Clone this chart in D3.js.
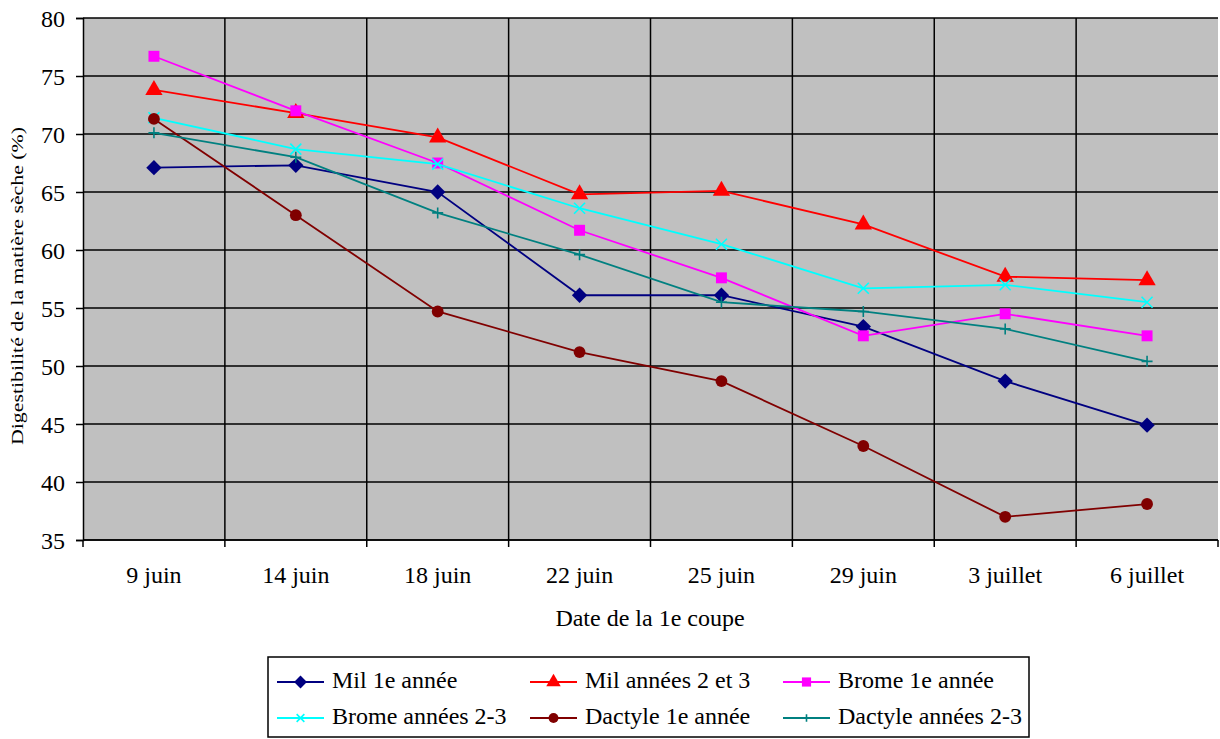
<!DOCTYPE html>
<html>
<head>
<meta charset="utf-8">
<script src="https://cdn.jsdelivr.net/npm/d3@7"></script>
<style>
  body { margin: 0; background: #fff; }
  svg { display: block; }
  svg text { font-family: "Liberation Serif", "Times New Roman", serif; fill: #000; }
</style>
</head>
<body>
<svg id="chart" width="1220" height="739"></svg>
<script>
// data
const dates = ["9 juin", "14 juin", "18 juin", "22 juin", "25 juin", "29 juin", "3 juillet", "6 juillet"];
const milAn1 = [67.1, 67.3, 65.0, 56.1, 56.1, 53.4, 48.7, 44.9];
const milAn23 = [73.8, 71.8, 69.7, 64.8, 65.1, 62.2, 57.7, 57.4];
const bromeAn1 = [76.7, 72.0, 67.5, 61.7, 57.6, 52.6, 54.5, 52.6];
const bromeAn23 = [71.4, 68.7, 67.4, 63.6, 60.5, 56.7, 57.0, 55.5];
const dactyleAn1 = [71.3, 63.0, 54.7, 51.2, 48.7, 43.1, 37.0, 38.1];
const dactyleAn23 = [70.1, 68.0, 63.2, 59.6, 55.5, 54.7, 53.2, 50.4];
const yTicks = [35, 40, 45, 50, 55, 60, 65, 70, 75, 80];

const series = [
  { name: "Mil 1e année", values: milAn1, color: "#000080", symbol: "diamond" },
  { name: "Mil années 2 et 3", values: milAn23, color: "#ff0000", symbol: "triangle" },
  { name: "Brome 1e année", values: bromeAn1, color: "#ff00ff", symbol: "square" },
  { name: "Brome années 2-3", values: bromeAn23, color: "#00ffff", symbol: "x" },
  { name: "Dactyle 1e année", values: dactyleAn1, color: "#800000", symbol: "circle" },
  { name: "Dactyle années 2-3", values: dactyleAn23, color: "#008080", symbol: "plus" }
];

const svg = d3.select("#chart");
const plotL = 83, plotR = 1218, plotT = 18, plotB = 540;

const x = d3.scaleBand().domain(dates).range([plotL, plotR]);
const y = d3.scaleLinear().domain([35, 80]).range([plotB, plotT]);

// plot background
svg.append("rect")
  .attr("x", plotL).attr("y", plotT)
  .attr("width", plotR - plotL).attr("height", plotB - plotT)
  .attr("fill", "#c0c0c0");

// horizontal grid
svg.append("g").selectAll("line")
  .data(yTicks)
  .join("line")
  .attr("x1", plotL).attr("x2", plotR)
  .attr("y1", d => y(d)).attr("y2", d => y(d))
  .attr("stroke", "#000").attr("stroke-width", 1.5);

// vertical grid at category boundaries
svg.append("g").selectAll("line")
  .data(dates.slice(1))
  .join("line")
  .attr("x1", d => x(d)).attr("x2", d => x(d))
  .attr("y1", plotT).attr("y2", plotB)
  .attr("stroke", "#000").attr("stroke-width", 1.5);

// y axis
const yAxis = svg.append("g")
  .attr("transform", `translate(${plotL},0)`)
  .call(d3.axisLeft(y).tickValues(yTicks).tickSize(7).tickPadding(11));
yAxis.select(".domain").attr("stroke", "#000").attr("stroke-width", 1.5);
yAxis.selectAll(".tick line").attr("stroke", "#000").attr("stroke-width", 1.5);
yAxis.selectAll("text")
  .attr("font-size", 24).attr("dy", "0.34em");

// x axis: ticks at band boundaries
const xAxis = svg.append("g").attr("transform", `translate(0,${plotB})`);
xAxis.append("line")
  .attr("x1", plotL).attr("x2", plotR)
  .attr("stroke", "#000").attr("stroke-width", 1.5);
xAxis.selectAll("line.tk")
  .data(dates.map(d => x(d)).concat([plotR]))
  .join("line").attr("class", "tk")
  .attr("x1", d => d).attr("x2", d => d)
  .attr("y1", 0).attr("y2", 7)
  .attr("stroke", "#000").attr("stroke-width", 1.5);
xAxis.selectAll("text")
  .data(dates)
  .join("text")
  .attr("x", d => x(d) + x.bandwidth() / 2)
  .attr("y", 43)
  .attr("text-anchor", "middle")
  .attr("font-size", 24)
  .text(d => d);

// axis titles
svg.append("text")
  .attr("x", 650).attr("y", 626)
  .attr("text-anchor", "middle")
  .attr("font-size", 24)
  .text("Date de la 1e coupe");

svg.append("text")
  .attr("transform", "translate(23,286) rotate(-90)")
  .attr("text-anchor", "middle")
  .attr("font-size", 16)
  .attr("textLength", 318)
  .attr("lengthAdjust", "spacingAndGlyphs")
  .text("Digestibilité de la matière sèche (%)");

// marker drawing
function drawMarker(g, symbol, color, size) {
  if (symbol === "x") {
    const s = size * 0.55;
    g.append("path").attr("d", `M${-s},${-s}L${s},${s}M${-s},${s}L${s},${-s}`)
      .attr("stroke", color).attr("stroke-width", 1.6).attr("fill", "none");
  } else if (symbol === "plus") {
    const s = size * 0.55;
    g.append("path").attr("d", `M${-s},0L${s},0M0,${-s}L0,${s}`)
      .attr("stroke", color).attr("stroke-width", 1.6).attr("fill", "none");
  } else {
    const types = {
      diamond: d3.symbolDiamond2, triangle: d3.symbolTriangle,
      square: d3.symbolSquare, circle: d3.symbolCircle
    };
    const areas = { diamond: 150, triangle: 130, square: 120, circle: 110 };
    g.append("path")
      .attr("d", d3.symbol().type(types[symbol]).size(areas[symbol] * size / 10)())
      .attr("fill", color);
  }
}

const line = d3.line()
  .x((d, i) => x(dates[i]) + x.bandwidth() / 2)
  .y(d => y(d));

series.forEach(s => {
  svg.append("path")
    .datum(s.values)
    .attr("d", line)
    .attr("fill", "none")
    .attr("stroke", s.color)
    .attr("stroke-width", 1.8);
  s.values.forEach((v, i) => {
    const g = svg.append("g")
      .attr("transform", `translate(${x(dates[i]) + x.bandwidth() / 2},${y(v)})`);
    drawMarker(g, s.symbol, s.color, 10);
  });
});

// legend
const legend = svg.append("g");
legend.append("rect")
  .attr("x", 268).attr("y", 657)
  .attr("width", 761).attr("height", 80)
  .attr("fill", "#fff").attr("stroke", "#000").attr("stroke-width", 1.5);

const colX = [277, 530, 783];
const rowY = [682, 718];
series.forEach((s, i) => {
  const cx = colX[i % 3], cy = rowY[Math.floor(i / 3)];
  const g = legend.append("g").attr("transform", `translate(${cx},${cy})`);
  g.append("line").attr("x1", 0).attr("x2", 47).attr("y1", 0).attr("y2", 0)
    .attr("stroke", s.color).attr("stroke-width", 1.8);
  const m = g.append("g").attr("transform", "translate(23.5,0)");
  drawMarker(m, s.symbol, s.color, 7);
  g.append("text")
    .attr("x", 55).attr("y", 6)
    .attr("font-size", 24)
    .text(s.name);
});
</script>
</body>
</html>
